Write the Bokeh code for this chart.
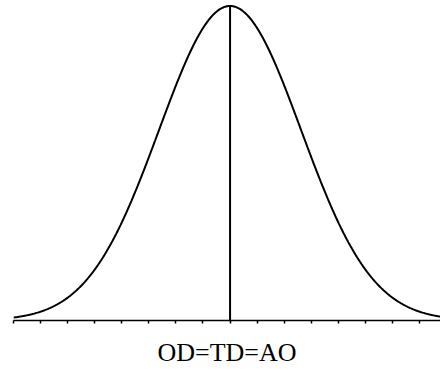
import numpy as np
from bokeh.plotting import figure
from bokeh.models import Range1d, FixedTicker
from bokeh.embed import file_html
from bokeh.resources import INLINE

# Normal curve parameters (in tick units)
mean = 0.0
sd = 2.62
x_min, x_max = -8.0, 8.0
tick_positions = list(range(-8, 9))
axis_title = "OD=TD=AO"

xs = np.linspace(x_min, x_max, 600)
ys = np.exp(-0.5 * ((xs - mean) / sd) ** 2)

p = figure(width=440, height=369, output_backend="svg", toolbar_location=None,
           x_range=Range1d(-8, -8 + 427 / 27.07), y_range=Range1d(0, 320 / 314.5),
           min_border_left=13, min_border_right=0, min_border_top=0, min_border_bottom=0,
           y_axis_location=None)
p.outline_line_color = None
p.grid.visible = False
p.background_fill_color = "white"
p.border_fill_color = "white"

p.line(xs, ys, line_color="black", line_width=2)
p.segment(x0=[mean], y0=[0], x1=[mean], y1=[1], line_color="black", line_width=2)

ax = p.xaxis[0]
ax.ticker = FixedTicker(ticks=tick_positions, minor_ticks=[])
ax.axis_line_width = 1.5
ax.axis_line_color = "black"
ax.major_tick_line_color = "black"
ax.major_tick_line_width = 1.5
ax.major_tick_in = 0
ax.major_tick_out = 3
ax.minor_tick_line_color = None
ax.major_label_overrides = {t: "" for t in tick_positions}
ax.major_label_standoff = 0
ax.axis_label = axis_title
ax.axis_label_text_font = "Liberation Serif"
ax.axis_label_text_font_size = "26px"
ax.axis_label_text_font_style = "normal"
ax.axis_label_text_color = "black"
ax.axis_label_standoff = 14

open("out.html", "w").write(file_html(p, INLINE))
